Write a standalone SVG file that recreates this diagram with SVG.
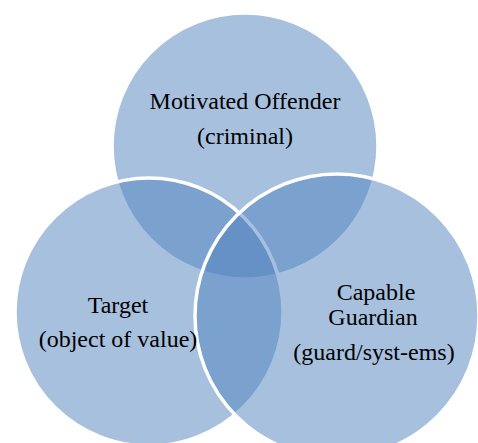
<svg xmlns="http://www.w3.org/2000/svg" width="478" height="443" viewBox="0 0 478 443">
  <style>
    .set { fill: #4F81BD; fill-opacity: 0.5; stroke: #FFFFFF; stroke-width: 3.5; }
    text { font-family: 'Liberation Serif', serif; font-size: 24px; fill: #000000; text-anchor: middle; }
  </style>
  <rect width="478" height="443" fill="#FFFFFF"/>
  <!-- sets drawn back to front: offender, target, guardian -->
  <g id="offender">
    <circle class="set" cx="245" cy="146" r="133"/>
    <text x="245" y="109">Motivated Offender</text>
    <text x="245" y="144">(criminal)</text>
  </g>
  <g id="target">
    <circle class="set" cx="149" cy="312" r="134"/>
  </g>
  <g id="guardian">
    <circle class="set" cx="337" cy="316" r="142"/>
  </g>
  <g id="labels">
    <text x="118" y="313">Target</text>
    <text x="118" y="347">(object of value)</text>
    <text x="376" y="300">Capable</text>
    <text x="373" y="325">Guardian</text>
    <text x="374" y="360">(guard/syst-ems)</text>
  </g>
  <g id="connectors"/>
</svg>
